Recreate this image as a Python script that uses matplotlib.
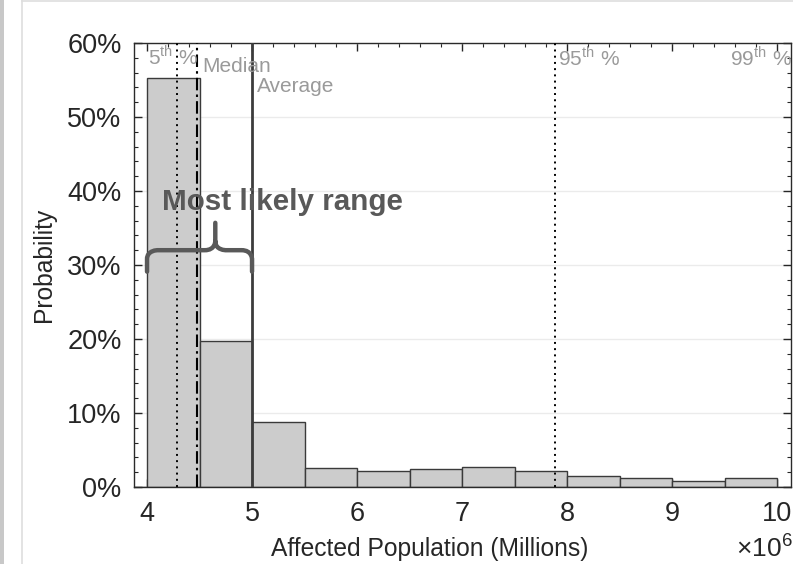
import numpy as np
import matplotlib.pyplot as plt
from matplotlib.path import Path
from matplotlib.patches import PathPatch, Rectangle
from matplotlib.lines import Line2D
from matplotlib.ticker import MultipleLocator, FuncFormatter

plt.rcParams['font.family'] = ['Liberation Sans', 'DejaVu Sans']
plt.rcParams['mathtext.fontset'] = 'custom'
plt.rcParams['mathtext.rm'] = 'Liberation Sans'

# histogram of affected population (bin edges in people, probability per bin)
bin_edges = np.array([3.5, 4.0, 4.5, 5.0, 5.5, 6.0, 6.5, 7.0, 7.5, 8.0, 8.5, 9.0, 9.5, 10.0, 10.5]) * 1e6
probability = [0.0, 0.553, 0.197, 0.088, 0.026, 0.022, 0.024, 0.027, 0.022, 0.015, 0.012, 0.0085, 0.012, 0.0]

# summary statistics (people)
p5 = 4.29e6
median = 4.48e6
average = 5.0e6
p95 = 7.89e6
likely_lo, likely_hi = 4.0e6, 5.0e6

fig = plt.figure(figsize=(7.93, 5.64), dpi=100)
ax = fig.add_axes([0.169, 0.1365, 0.8285, 0.7873])

widths = np.diff(bin_edges)
ax.bar(bin_edges[:-1], probability, width=widths, align='edge',
       color='#cccccc', edgecolor='#3a3a3a', linewidth=1.0, zorder=2)

ax.set_xlim(3.876e6, 10.133e6)
ax.set_ylim(0, 0.6)

# percentile / average markers
ax.axvline(p5, color='black', linestyle=(0, (1, 2.2)), linewidth=1.4, zorder=3)
ax.axvline(median, color='black', linestyle=(0, (6, 2, 1.2, 2)), linewidth=1.5, zorder=3)
ax.axvline(average, color='#3c3c3c', linestyle='-', linewidth=2.0, zorder=3)
ax.axvline(p95, color='black', linestyle=(0, (1, 2.2)), linewidth=1.4, zorder=3)

lbl = dict(color='#9a9a9a', fontsize=15, va='center', zorder=4)
ax.text(4.01e6, 0.582, r'5$^{\mathrm{th}}$ %', **lbl)
ax.text(4.53e6, 0.568, 'Median', **lbl)
ax.text(5.05e6, 0.541, 'Average', **lbl)
ax.text(7.91e6, 0.580, r'95$^{\mathrm{th}}$ %', **lbl)
ax.text(9.55e6, 0.580, r'99$^{\mathrm{th}}$ %', **lbl)

# curly brace over the most likely range
def brace(x0, x1, xtip, y_end, y_bar, y_tip):
    r = 0.1e6
    dy = 0.012
    verts = [
        (x0, y_end), (x0, y_bar - dy),
        (x0, y_bar), (x0 + r, y_bar), (x0 + r, y_bar),
        (xtip - r, y_bar),
        (xtip, y_bar), (xtip, y_bar + dy), (xtip, y_bar + dy),
        (xtip, y_tip),
        (xtip, y_bar + dy),
        (xtip, y_bar), (xtip + r, y_bar), (xtip + r, y_bar),
        (x1 - r, y_bar),
        (x1, y_bar), (x1, y_bar - dy), (x1, y_bar - dy),
        (x1, y_end),
    ]
    codes = [Path.MOVETO, Path.LINETO,
             Path.CURVE4, Path.CURVE4, Path.CURVE4,
             Path.LINETO,
             Path.CURVE4, Path.CURVE4, Path.CURVE4,
             Path.LINETO,
             Path.MOVETO,
             Path.CURVE4, Path.CURVE4, Path.CURVE4,
             Path.LINETO,
             Path.CURVE4, Path.CURVE4, Path.CURVE4,
             Path.LINETO]
    return PathPatch(Path(verts, codes), facecolor='none', edgecolor='#595959',
                     linewidth=3.2, capstyle='round', zorder=5)

ax.add_patch(brace(likely_lo, likely_hi, 4.65e6, 0.291, 0.320, 0.357))
ax.text(4.14e6, 0.385, 'Most likely range', fontsize=21.3, fontweight='bold',
        color='#595959', va='center', zorder=6)

# axes styling
ax.yaxis.set_major_locator(MultipleLocator(0.1))
ax.yaxis.set_minor_locator(MultipleLocator(0.02))
ax.yaxis.set_major_formatter(FuncFormatter(lambda v, p: '%d%%' % round(v * 100)))
ax.xaxis.set_major_locator(MultipleLocator(1e6))
ax.xaxis.set_minor_locator(MultipleLocator(0.2e6))
ax.xaxis.set_major_formatter(FuncFormatter(lambda v, p: '%d' % round(v / 1e6)))
ax.tick_params(which='both', direction='in', top=True, right=True, colors='#262626',
               labelsize=19.5)
ax.tick_params(which='major', length=6, width=1)
ax.tick_params(which='minor', length=3, width=0.8)
ax.tick_params(axis='y', pad=9)
ax.tick_params(axis='x', pad=10)
ax.grid(axis='y', which='major', color='#ebebeb', linewidth=1.0, zorder=0)
ax.set_axisbelow(True)
for s in ax.spines.values():
    s.set_color('#2a2a2a')
    s.set_linewidth(1.0)

ax.set_xlabel('Affected Population (Millions)', fontsize=17.7, color='#262626')
ax.set_ylabel('Probability', fontsize=17.7, color='#262626')
ax.xaxis.set_label_coords(0.450, -0.112)
ax.yaxis.set_label_coords(-0.118, 0.5)
fig.text(0.928, 0.004, r'$\times$10$^{6}$', fontsize=19, color='#262626', va='bottom')

# page edge
fig.add_artist(Rectangle((0, 0), 4 / 793, 1, transform=fig.transFigure,
                         facecolor='#c8c8c8', edgecolor='none'))
fig.add_artist(Line2D([22 / 793, 22 / 793], [0, 1], transform=fig.transFigure,
                      color='#dedede', linewidth=1.2))
fig.add_artist(Line2D([22 / 793, 1], [0.998, 0.998], transform=fig.transFigure,
                      color='#dedede', linewidth=1.2))

fig.savefig('out.png', dpi=100)
